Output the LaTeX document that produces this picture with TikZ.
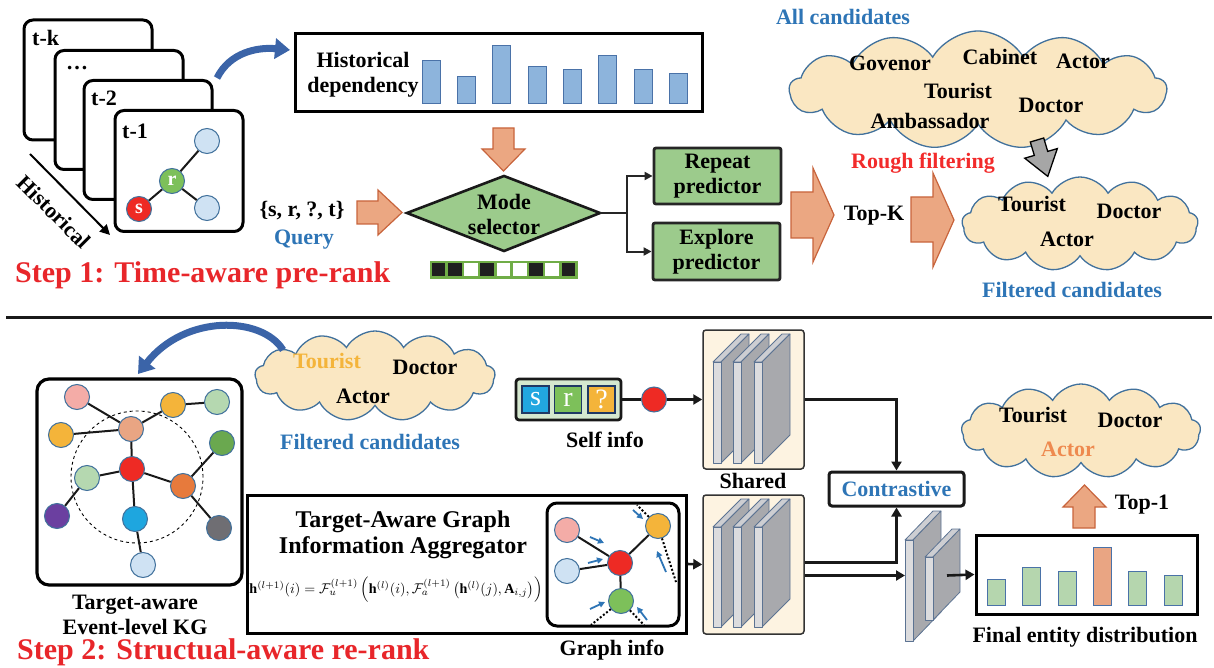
\documentclass[tikz,border=0pt]{standalone}
\usepackage{fontspec}
\setmainfont{Liberation Serif}
\usepackage{amsmath}
\usetikzlibrary{shapes.symbols,arrows.meta,calc}
\definecolor{qblue}{HTML}{2E75B6}
\definecolor{sred}{HTML}{E8262A}
\definecolor{rred}{HTML}{F22B2B}
\definecolor{orfill}{HTML}{EBA782}
\definecolor{ordraw}{HTML}{C8643C}
\definecolor{gfill}{HTML}{9CCB8C}
\definecolor{cloudfill}{HTML}{FAE7C2}
\definecolor{clouddraw}{HTML}{41719C}
\definecolor{barblue}{HTML}{8DB4DC}
\definecolor{barline}{HTML}{4A72A8}
\definecolor{bargreen}{HTML}{B5D6AE}
\definecolor{sharedfill}{HTML}{FDF3E1}
\definecolor{slabfront}{HTML}{DCDCDE}
\definecolor{slabside}{HTML}{A8A9AD}
\definecolor{slabtop}{HTML}{CDCED2}
\definecolor{slabln}{HTML}{5C7392}
\definecolor{arrowblue}{HTML}{3B64A8}
\definecolor{nodeline}{HTML}{41719C}
\definecolor{bitgreen}{HTML}{70AD47}
\definecolor{cLightblue}{HTML}{CFE2F3}
\definecolor{cGreen}{HTML}{7DC05A}
\definecolor{cRed}{HTML}{EE2A24}
\definecolor{cPink}{HTML}{F4ACA7}
\definecolor{cYellow}{HTML}{F4B43A}
\definecolor{cLightgreen}{HTML}{B5D8B0}
\definecolor{cSalmon}{HTML}{E9A583}
\definecolor{cDarkgreen}{HTML}{6AA84F}
\definecolor{cOrange}{HTML}{E77A3C}
\definecolor{cPurple}{HTML}{6B3FA0}
\definecolor{cCyan}{HTML}{1EA6DF}
\definecolor{cGray}{HTML}{6F6E73}
\definecolor{cActor}{HTML}{EE8A4F}
\definecolor{sqblue}{HTML}{22A7E0}
\definecolor{sqnavy}{HTML}{1F3864}
\definecolor{selfgreen}{HTML}{D5E8CF}

\newcommand{\slabdraw}[6]{%
  \draw[slabsty, fill=slabtop] (#1,#2) -- (#1+#5,#2-#6) -- (#1+#3+#5,#2-#6) -- (#1+#3,#2) -- cycle;
  \draw[slabsty, fill=slabside] (#1+#3,#2) -- (#1+#3+#5,#2-#6) -- (#1+#3+#5,#2+#4-#6) -- (#1+#3,#2+#4) -- cycle;
  \draw[slabsty, fill=slabfront] (#1,#2) rectangle (#1+#3,#2+#4);
}

\tikzset{
  lbl/.style={font=\bfseries\fontsize{22}{25}\selectfont, align=center, inner sep=0pt},
  bluelbl/.style={lbl, text=qblue},
  steplbl/.style={font=\bfseries\fontsize{30}{32}\selectfont, text=sred, inner sep=0pt, anchor=west},
  frame/.style={draw=black, line width=3pt, rounded corners=9pt, fill=white, inner sep=0pt},
  thickbox/.style={draw=black, line width=3pt, fill=white, inner sep=0pt},
  predbox/.style={draw=black!85, line width=2.8pt, rounded corners=2pt, fill=gfill, lbl},
  blockarrow/.style={fill=orfill, draw=ordraw, line width=1.2pt, line join=miter},
  cloudsh/.style={cloud, cloud puffs=13, cloud puff arc=120, cloud ignores aspect, draw=clouddraw, fill=cloudfill, line width=1.3pt, inner sep=0pt},
  gnode/.style={circle, draw=nodeline, line width=1pt, minimum size=25pt, inner sep=0pt},
  edge/.style={line width=2pt, black!90},
  conn/.style={line width=2.6pt, black!90, -{Triangle[width=10pt,length=9pt]}},
  thinconn/.style={line width=2pt, black!85, -{Triangle[width=8pt,length=8pt]}},
  bluearc/.style={line width=7pt, draw=arrowblue, -{Triangle[width=20pt,length=15pt]}},
  smallblue/.style={line width=1.8pt, draw=qblue, -{Triangle[width=6pt,length=6pt]}},
  dotline/.style={line width=2pt, dotted, black},
  barsty/.style={fill=barblue, draw=barline, line width=1pt},
  gbarsty/.style={fill=bargreen, draw=barline, line width=1pt},
  slabsty/.style={draw=slabln, line width=0.8pt, line join=round},
  sharedbox/.style={draw=black!80, line width=1.5pt, rounded corners=3pt, fill=sharedfill, inner sep=0pt},
  sqr/.style={draw=sqnavy, line width=1.3pt, minimum width=27pt, minimum height=27pt, inner sep=0pt, text=white, font=\fontsize{28}{28}\selectfont},
}

\begin{document}
\begin{tikzpicture}[x=1pt,y=-1pt]
\useasboundingbox (0,0) rectangle (1214,668);

% ================= STEP 1 =================
\node[frame, minimum width=128pt, minimum height=120pt] (fk) at (88,80) {};
\node[lbl, anchor=west] (lk) at (32,38) {t-k};
\node[frame, minimum width=128pt, minimum height=119pt] (fd) at (119,110) {};
\node[lbl, anchor=west] (ld) at (66,68) {\ldots};
\node[frame, minimum width=128pt, minimum height=119pt] (f2) at (148,140) {};
\node[lbl, anchor=west] (l2) at (91,98) {t-2};
\node[frame, minimum width=128pt, minimum height=121pt] (f1) at (179,171) {};
\node[lbl, anchor=west] (l1) at (122,131) {t-1};
\node[gnode, fill=cLightblue] (t1a) at (207,141) {};
\node[gnode, fill=cLightblue] (t1b) at (207,208) {};
\node[gnode, fill=cGreen, text=white, font=\bfseries\fontsize{20}{20}\selectfont] (t1r) at (172,181) {r};
\node[gnode, fill=cRed, text=white, font=\bfseries\fontsize{20}{20}\selectfont] (t1s) at (139,209) {s};
\draw[edge] (t1r) -- (t1a);
\draw[edge] (t1r) -- (t1b);
\draw[edge] (t1r) -- (t1s);
\coordinate (hs) at (30,154);
\coordinate (he) at (110,235);
\draw[line width=2pt, -{Triangle[width=10pt,length=10pt]}] (hs) -- (he);
\node[lbl, rotate=-45] (histlbl) at (54,212) {Historical};

\coordinate (ba1) at (217,78);
\coordinate (ba2) at (290,50);
\draw[bluearc] (ba1) .. controls (230,52) and (258,47) .. (ba2);

\node[thickbox, minimum width=407pt, minimum height=78pt] (hist) at (498.5,73) {};
\node[lbl] (histtxt) at (363,75) {Historical\\dependency};
\foreach \x/\t in {422/61,457/77,492/46,528/67,563/70,598/56,634/70,669/74}
  \draw[barsty] (\x,\t) rectangle (\x+18.5,104);

\draw[blockarrow] (493,128) -- (514,128) -- (514,149) -- (525,149) -- (503.5,171) -- (482,149) -- (493,149) -- cycle;

\draw[fill=gfill, draw=black!90, line width=2.6pt, line join=miter] (407,213) -- (504,176) -- (600,213) -- (504,251) -- cycle;
\node[lbl] (mode) at (504,214) {Mode\\selector};
\coordinate (modeR) at (600,213);

\draw[fill=bitgreen, draw=bitgreen] (430,261) rectangle (577,278);
\foreach \i/\c in {0/black!88,1/black!88,2/white,3/black!88,4/white,5/white,6/black!88,7/white,8/black!88}
  \fill[\c] (431.8+\i*16.22,263) rectangle (431.8+\i*16.22+13.6,276);

\node[lbl] (query) at (302,211) {\{s, r, ?, t\}};
\node[bluelbl] (qlbl) at (304,240) {Query};
\draw[blockarrow] (357,201) -- (378,201) -- (378,190) -- (402,212.5) -- (378,235) -- (378,224) -- (357,224) -- cycle;

\node[predbox, minimum width=127pt, minimum height=56pt] (rep) at (717.5,176) {Repeat\\predictor};
\node[predbox, minimum width=127pt, minimum height=57pt] (expl) at (716.5,251.5) {Explore\\predictor};
\draw[line width=2pt, black!85] (modeR) -- ++(27,0) coordinate (split);
\draw[thinconn] (split) |- (rep.west);
\draw[thinconn] (split) |- (expl.west);

\draw[blockarrow] (791,192) -- (813,192) -- (813,168) -- (834,215) -- (813,262) -- (813,238) -- (791,238) -- cycle;
\node[lbl] (topk) at (874,216) {Top-K};
\draw[blockarrow] (911,197) -- (933,197) -- (933,173) -- (954,220) -- (933,267) -- (933,242) -- (911,242) -- cycle;

\node[bluelbl] (allc) at (843,17) {All candidates};
\node[cloudsh, minimum width=377pt, minimum height=118pt] (cloudA) at (978,90) {};
\node[lbl] (wGov) at (890,63) {Govenor};
\node[lbl] (wCab) at (1000,57) {Cabinet};
\node[lbl] (wAct) at (1083,61) {Actor};
\node[lbl] (wTou) at (958,91) {Tourist};
\node[lbl] (wDoc) at (1051,105) {Doctor};
\node[lbl] (wAmb) at (930,121) {Ambassador};
\node[lbl, text=rred] (rough) at (923,163) {Rough filtering};
\draw[fill=black!35, draw=black, line width=1.3pt, line join=miter]
  (1043.7,138.0) -- (1047.7,151.4) -- (1057.3,148.6) -- (1047.8,176.4) -- (1024.7,158.2) -- (1034.3,155.4) -- (1030.3,142.0) -- cycle;

\node[cloudsh, minimum width=236pt, minimum height=94pt] (cloudF) at (1080,224) {};
\node[lbl] (fTou) at (1032,204) {Tourist};
\node[lbl] (fDoc) at (1129,211) {Doctor};
\node[lbl] (fAct) at (1067,239) {Actor};
\node[bluelbl] (filt1) at (1072,290) {Filtered candidates};

\node[steplbl] (step1) at (15,275) {Step 1: Time-aware pre-rank};

\draw[line width=3pt, black!90] (6,317) -- (1212,317);

% ================= STEP 2 =================
\node[cloudsh, minimum width=240pt, minimum height=90pt] (cloudB) at (375,376) {};
\node[lbl, text=cYellow] (bTou) at (327,361) {Tourist};
\node[lbl] (bDoc) at (425,367) {Doctor};
\node[lbl] (bAct) at (363,396) {Actor};
\node[bluelbl] (filt2) at (370,442) {Filtered candidates};

\coordinate (bb1) at (283,350);
\coordinate (bb2) at (138,374);
\draw[bluearc] (bb1) .. controls (262,316) and (185,314) .. (bb2);

\node[frame, line width=3.2pt, rounded corners=12pt, minimum width=205pt, minimum height=206pt] (kgbox) at (139.5,482) {};
\draw[dashed, line width=0.9pt] (137,477) circle (66pt);
\node[gnode, fill=cPink] (k1) at (77,397) {};
\node[gnode, fill=cYellow] (k2) at (173,405) {};
\node[gnode, fill=cLightgreen] (k3) at (217,402) {};
\node[gnode, fill=cYellow] (k4) at (61,435) {};
\node[gnode, fill=cSalmon] (k5) at (131,429) {};
\node[gnode, fill=cDarkgreen] (k6) at (222,443) {};
\node[gnode, fill=cLightgreen] (k7) at (87,478) {};
\node[gnode, fill=cRed] (k8) at (132,469) {};
\node[gnode, fill=cOrange] (k9) at (183,486) {};
\node[gnode, fill=cPurple] (k10) at (57,516) {};
\node[gnode, fill=cCyan] (k11) at (135,519) {};
\node[gnode, fill=cGray] (k12) at (219,528) {};
\node[gnode, fill=cLightblue] (k13) at (143,565) {};
\draw[edge] (k1) -- (k5);
\draw[edge] (k2) -- (k5);
\draw[edge] (k2) -- (k3);
\draw[edge] (k4) -- (k5);
\draw[edge] (k5) -- (k8);
\draw[edge] (k8) -- (k7);
\draw[edge] (k7) -- (k10);
\draw[edge] (k8) -- (k9);
\draw[edge] (k9) -- (k6);
\draw[edge] (k9) -- (k12);
\draw[edge] (k8) -- (k11);
\draw[edge] (k11) -- (k13);
\node[lbl] (kglbl) at (135,615) {Target-aware\\Event-level KG};

\node[steplbl] (step2) at (17,652) {Step 2: Structual-aware re-rank};

\node[draw=black!90, line width=2.8pt, rounded corners=3pt, fill=selfgreen, minimum width=105pt, minimum height=41pt, inner sep=0pt] (selfbox) at (568.5,399.5) {};
\node[sqr, fill=sqblue] (sqs) at (535.5,399.5) {s};
\node[sqr, fill=cGreen] (sqr) at (568,399.5) {r};
\node[sqr, fill=cYellow] (sqq) at (601.5,399.5) {?};
\node[lbl] (selflbl) at (605,440) {Self info};
\node[gnode, fill=cRed] (selfdot) at (654,399.5) {};

\node[sharedbox, minimum width=101pt, minimum height=139pt] (sharedU) at (753.5,399.5) {};
\slabdraw{713}{362}{8}{101}{28}{28}
\slabdraw{733}{362}{8}{101}{28}{28}
\slabdraw{754}{362}{8}{101}{28}{28}
\node[lbl] (sharedlbl) at (753,481) {Shared};
\node[sharedbox, minimum width=101pt, minimum height=139pt] (sharedL) at (753.5,564.5) {};
\slabdraw{713}{527}{8}{100}{28}{28}
\slabdraw{733}{527}{8}{100}{28}{28}
\slabdraw{754}{527}{8}{100}{28}{28}

\node[thickbox, line width=3pt, minimum width=439pt, minimum height=138pt] (gbox) at (466.5,564) {};
\node[lbl, font=\bfseries\fontsize{24}{26}\selectfont] (gtitle) at (403,535) {Target-Aware Graph\\Information Aggregator};
\node[inner sep=0pt] (formula) at (396,590) {\resizebox{293pt}{!}{$\mathbf{h}^{(l+1)}(i)=\mathcal{F}_u^{(l+1)}\left(\mathbf{h}^{(l)}(i),\mathcal{F}_a^{(l+1)}\left(\mathbf{h}^{(l)}(j),\mathbf{A}_{i,j}\right)\right)$}};
\node[frame, line width=3pt, rounded corners=10pt, minimum width=132pt, minimum height=123pt] (ginner) at (613,564.5) {};
\node[gnode, fill=cPink] (gp) at (567,530) {};
\node[gnode, fill=cLightblue] (glb) at (567,571) {};
\node[gnode, fill=cRed] (gr) at (620,563) {};
\node[gnode, fill=cYellow] (gy) at (658,526) {};
\node[gnode, fill=cGreen] (gg) at (621,601) {};
\draw[edge] (gp) -- (gr);
\draw[edge] (glb) -- (gr);
\draw[edge] (gr) -- (gy);
\draw[edge] (gr) -- (gg);
\coordinate (d1) at (637,505);
\coordinate (d2) at (676,582);
\coordinate (d3) at (591,625);
\coordinate (d4) at (644,625);
\draw[dotline] (gy) -- (d1);
\draw[dotline] (gy) -- (d2);
\draw[dotline] (gg) -- (d3);
\draw[dotline] (gg) -- (d4);
\draw[smallblue] (590,537) -- (604,543);
\draw[smallblue] (588,563) -- (603,559);
\draw[smallblue] (633,510) -- (643,519);
\draw[smallblue] (666,572) -- (657,551);
\draw[smallblue] (590,609) -- (605,602);
\draw[smallblue] (647,620) -- (637,607);
\node[lbl] (ginfo) at (612,650) {Graph info};

\node[draw=black!90, line width=3pt, rounded corners=3pt, fill=white, minimum width=135pt, minimum height=34pt, inner sep=0pt, bluelbl] (contr) at (896.5,489) {Contrastive};

\slabdraw{905}{540}{8}{101}{28}{29}
\slabdraw{925}{557}{8}{63}{27}{28}
\coordinate (slabin) at (905,575.5);
\coordinate (slabout) at (947,575.5);

\node[thickbox, minimum width=221pt, minimum height=79pt] (finalbox) at (1086.5,574.5) {};
\foreach \x/\t in {987/579,1022/567,1058/571,1128/571,1164/575}
  \draw[gbarsty] (\x,\t) rectangle (\x+18.5,605);
\draw[fill=cSalmon, draw=barline, line width=1pt] (1093,547) rectangle (1111.5,605);
\node[lbl] (finallbl) at (1085,637) {Final entity distribution};

\draw[blockarrow] (1073,528) -- (1073,507) -- (1063,507) -- (1084.5,485) -- (1106,507) -- (1095,507) -- (1095,528) -- cycle;
\node[lbl] (top1) at (1142,505) {Top-1};

\node[cloudsh, minimum width=239pt, minimum height=94pt] (cloudR) at (1081,431) {};
\node[lbl] (rTou) at (1033,415) {Tourist};
\node[lbl] (rDoc) at (1130,420) {Doctor};
\node[lbl, text=cActor] (rAct) at (1068,449) {Actor};

\draw[line width=2.6pt, black!90] (selfbox.east) -- (selfdot);
\draw[conn] (selfdot) -- (sharedU.west);
\draw[conn] (sharedU.east) -| (contr.north);
\draw[conn] ([yshift=2pt]sharedL.east) -| (contr.south);
\draw[conn] ([yshift=-11pt]sharedL.east) -- (slabin);
\draw[conn] (slabout) -- (finalbox.west);
\draw[conn] (gbox.east) -- (sharedL.west);
\end{tikzpicture}
\end{document}
